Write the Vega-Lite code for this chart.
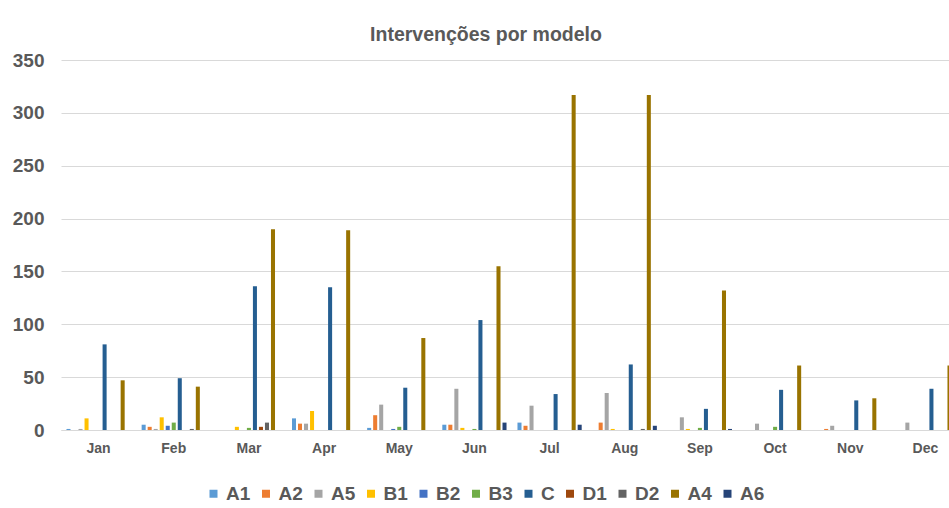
{
  "$schema": "https://vega.github.io/schema/vega-lite/v6.json",
  "autosize": {"type": "none"},
  "padding": {"left": 61, "top": 60, "right": 0, "bottom": 78},
  "width": 902,
  "height": 370,
  "background": "white",
  "title": {
    "text": "Intervenções por modelo",
    "font": "Liberation Sans",
    "fontSize": 19.5,
    "fontWeight": "bold",
    "color": "#595959",
    "anchor": "middle",
    "dx": -26,
    "offset": 6
  },
  "config": {
    "view": {"stroke": null},
    "font": "Liberation Sans"
  },
  "data": {
    "values": [
      {"m": "Jan", "s": "A1", "v": 1}, {"m": "Jan", "s": "A5", "v": 1}, {"m": "Jan", "s": "B1", "v": 11}, {"m": "Jan", "s": "C", "v": 81}, {"m": "Jan", "s": "A4", "v": 47},
      {"m": "Feb", "s": "A1", "v": 5}, {"m": "Feb", "s": "A2", "v": 3}, {"m": "Feb", "s": "A5", "v": 1}, {"m": "Feb", "s": "B1", "v": 12}, {"m": "Feb", "s": "B2", "v": 4}, {"m": "Feb", "s": "B3", "v": 7}, {"m": "Feb", "s": "C", "v": 49}, {"m": "Feb", "s": "D2", "v": 1}, {"m": "Feb", "s": "A4", "v": 41},
      {"m": "Mar", "s": "B1", "v": 3}, {"m": "Mar", "s": "B3", "v": 2}, {"m": "Mar", "s": "C", "v": 136}, {"m": "Mar", "s": "D1", "v": 3}, {"m": "Mar", "s": "D2", "v": 7}, {"m": "Mar", "s": "A4", "v": 190},
      {"m": "Apr", "s": "A1", "v": 11}, {"m": "Apr", "s": "A2", "v": 6}, {"m": "Apr", "s": "A5", "v": 6}, {"m": "Apr", "s": "B1", "v": 18}, {"m": "Apr", "s": "C", "v": 135}, {"m": "Apr", "s": "A4", "v": 189},
      {"m": "May", "s": "A1", "v": 2}, {"m": "May", "s": "A2", "v": 14}, {"m": "May", "s": "A5", "v": 24}, {"m": "May", "s": "B2", "v": 1}, {"m": "May", "s": "B3", "v": 3}, {"m": "May", "s": "C", "v": 40}, {"m": "May", "s": "A4", "v": 87},
      {"m": "Jun", "s": "A1", "v": 5}, {"m": "Jun", "s": "A2", "v": 5}, {"m": "Jun", "s": "A5", "v": 39}, {"m": "Jun", "s": "B1", "v": 2}, {"m": "Jun", "s": "B3", "v": 1}, {"m": "Jun", "s": "C", "v": 104}, {"m": "Jun", "s": "A4", "v": 155}, {"m": "Jun", "s": "A6", "v": 7},
      {"m": "Jul", "s": "A1", "v": 7}, {"m": "Jul", "s": "A2", "v": 4}, {"m": "Jul", "s": "A5", "v": 23}, {"m": "Jul", "s": "C", "v": 34}, {"m": "Jul", "s": "A4", "v": 317}, {"m": "Jul", "s": "A6", "v": 5},
      {"m": "Aug", "s": "A2", "v": 7}, {"m": "Aug", "s": "A5", "v": 35}, {"m": "Aug", "s": "B1", "v": 1}, {"m": "Aug", "s": "C", "v": 62}, {"m": "Aug", "s": "D2", "v": 1}, {"m": "Aug", "s": "A4", "v": 317}, {"m": "Aug", "s": "A6", "v": 4},
      {"m": "Sep", "s": "A5", "v": 12}, {"m": "Sep", "s": "B1", "v": 1}, {"m": "Sep", "s": "B3", "v": 2}, {"m": "Sep", "s": "C", "v": 20}, {"m": "Sep", "s": "A4", "v": 132}, {"m": "Sep", "s": "A6", "v": 1},
      {"m": "Oct", "s": "A5", "v": 6}, {"m": "Oct", "s": "B3", "v": 3}, {"m": "Oct", "s": "C", "v": 38}, {"m": "Oct", "s": "A4", "v": 61},
      {"m": "Nov", "s": "A2", "v": 1}, {"m": "Nov", "s": "A5", "v": 4}, {"m": "Nov", "s": "C", "v": 28}, {"m": "Nov", "s": "A4", "v": 30},
      {"m": "Dec", "s": "A5", "v": 7}, {"m": "Dec", "s": "C", "v": 39}, {"m": "Dec", "s": "A4", "v": 61}
    ]
  },
  "mark": {"type": "bar"},
  "encoding": {
    "x": {
      "field": "m",
      "type": "nominal",
      "sort": ["Jan", "Feb", "Mar", "Apr", "May", "Jun", "Jul", "Aug", "Sep", "Oct", "Nov", "Dec"],
      "scale": {"domain": ["Jan", "Feb", "Mar", "Apr", "May", "Jun", "Jul", "Aug", "Sep", "Oct", "Nov", "Dec"], "paddingInner": 0.12, "paddingOuter": 0.06},
      "axis": {
        "title": null,
        "labelAngle": 0,
        "labelFont": "Liberation Sans",
        "labelFontSize": 14,
        "labelFontWeight": "bold",
        "labelColor": "#595959",
        "labelPadding": 11,
        "ticks": false,
        "domainColor": "#D9D9D9",
        "domainWidth": 1
      }
    },
    "xOffset": {
      "field": "s",
      "type": "nominal",
      "scale": {"domain": ["A1", "A2", "A5", "B1", "B2", "B3", "C", "D1", "D2", "A4", "A6"], "paddingInner": 0.33, "paddingOuter": 0.16}
    },
    "y": {
      "field": "v",
      "type": "quantitative",
      "scale": {"domain": [0, 350], "nice": false},
      "axis": {
        "title": null,
        "values": [0, 50, 100, 150, 200, 250, 300, 350],
        "labelFont": "Liberation Sans",
        "labelFontSize": 19,
        "labelFontWeight": "bold",
        "labelColor": "#595959",
        "labelPadding": 17,
        "ticks": false,
        "domain": false,
        "gridColor": "#D9D9D9",
        "gridWidth": 1
      }
    },
    "color": {
      "field": "s",
      "type": "nominal",
      "scale": {
        "domain": ["A1", "A2", "A5", "B1", "B2", "B3", "C", "D1", "D2", "A4", "A6"],
        "range": ["#5B9BD5", "#ED7D31", "#A5A5A5", "#FFC000", "#4472C4", "#70AD47", "#255E91", "#9E480E", "#636363", "#997300", "#264478"]
      },
      "legend": {
        "title": null,
        "orient": "none",
        "direction": "horizontal",
        "legendX": 143,
        "legendY": 424,
        "symbolType": "square",
        "symbolSize": 64,
        "symbolStrokeWidth": 0,
        "labelFont": "Liberation Sans",
        "labelFontSize": 19,
        "labelFontWeight": "bold",
        "labelColor": "#595959",
        "labelOffset": 3,
        "columnPadding": 5.5,
        "columns": 11
      }
    }
  }
}
